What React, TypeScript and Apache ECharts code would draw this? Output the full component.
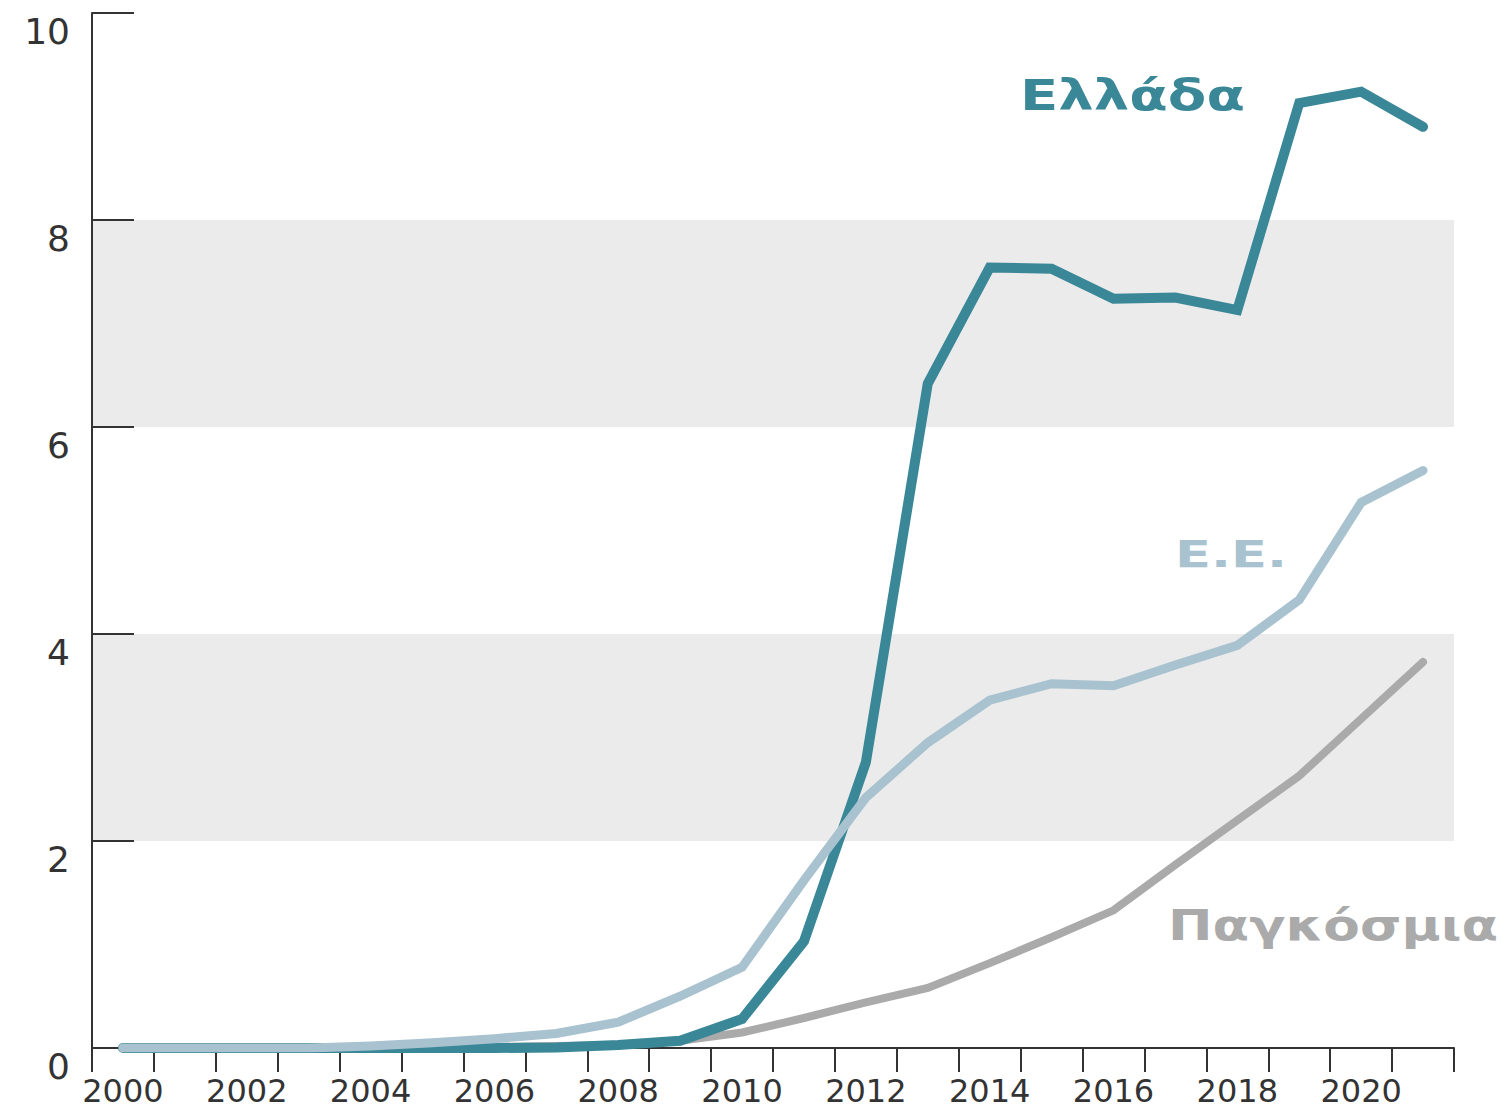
import React, { useEffect, useRef } from "react";
import * as echarts from "echarts";

const years = [
  "2000", "2001", "2002", "2003", "2004", "2005", "2006", "2007", "2008", "2009", "2010",
  "2011", "2012", "2013", "2014", "2015", "2016", "2017", "2018", "2019", "2020", "2021",
];
const greece = [0, 0, 0, 0, 0, 0, 0, 0.005, 0.03, 0.07, 0.28, 1.03, 2.76, 6.42, 7.54, 7.53, 7.24, 7.25, 7.13, 9.13, 9.24, 8.9];
const eu = [0, 0, 0, 0, 0.02, 0.05, 0.09, 0.14, 0.25, 0.5, 0.78, 1.62, 2.42, 2.95, 3.36, 3.52, 3.5, 3.7, 3.89, 4.33, 5.27, 5.58];
const world = [0, 0, 0, 0, 0, 0, 0.01, 0.02, 0.03, 0.07, 0.15, 0.29, 0.44, 0.58, 0.82, 1.07, 1.33, 1.77, 2.2, 2.63, 3.18, 3.73];
const yTicks = [0, 2, 4, 6, 8, 10];

const labelGreece = "Ελλάδα";
const labelEU = "Ε.Ε.";
const labelWorld = "Παγκόσμια";

const TEAL = "#3a8797";
const LIGHT = "#a9c2cf";
const GRAY = "#aaaaaa";

function measure(text: string, font: string): number {
  const c = document.createElement("canvas");
  const ctx = c.getContext("2d");
  if (!ctx) return 1;
  ctx.font = font;
  return ctx.measureText(text).width || 1;
}

export default function App() {
  const ref = useRef<HTMLDivElement>(null);

  useEffect(() => {
    document.body.style.margin = "0";
    document.body.style.overflow = "hidden";
    if (!ref.current) return;
    const chart = echarts.init(ref.current, undefined, { renderer: "svg" });

    const fam = '"DejaVu Sans", sans-serif';
    const mkLabel = (text: string, x: number, y: number, size: number, width: number, color: string) => {
      const w = measure(text, `bold ${size}px ${fam}`);
      return {
        type: "text",
        x,
        y,
        scaleX: width / w,
        z: 100,
        style: {
          text,
          fill: color,
          font: `bold ${size}px ${fam}`,
          align: "left",
          verticalAlign: "middle",
        },
      };
    };

    const lineSeries = (name: string, data: number[], color: string, width: number, z: number) => ({
      name,
      type: "line",
      data,
      symbol: "none",
      z,
      lineStyle: { color, width, cap: "round", join: "miter" },
    });

    chart.setOption({
      animation: false,
      backgroundColor: "#ffffff",
      grid: { left: 92, right: 49, top: 13, bottom: 61, containLabel: false },
      xAxis: {
        type: "category",
        data: years,
        boundaryGap: true,
        axisLine: { show: true, lineStyle: { color: "#333", width: 2 } },
        axisTick: { show: true, interval: 0, length: 24, inside: false, lineStyle: { color: "#333", width: 2 } },
        axisLabel: {
          interval: 1,
          margin: 27,
          color: "#333",
          fontSize: 32,
          lineHeight: 32,
          fontFamily: fam,
        },
        splitLine: { show: false },
      },
      yAxis: {
        type: "value",
        min: yTicks[0],
        max: yTicks[yTicks.length - 1],
        interval: 2,
        axisLine: { show: true, lineStyle: { color: "#333", width: 2 } },
        axisTick: { show: true, inside: true, length: 42, lineStyle: { color: "#333", width: 2 } },
        axisLabel: {
          color: "#333",
          fontSize: 36,
          fontFamily: fam,
          margin: 22,
          verticalAlign: "top",
        },
        splitLine: { show: false },
        splitArea: { show: true, areaStyle: { color: ["rgba(0,0,0,0)", "#ebebeb"] } },
      },
      series: [
        lineSeries("Παγκόσμια", world, GRAY, 8, 2),
        lineSeries("Ελλάδα", greece, TEAL, 10, 3),
        lineSeries("Ε.Ε.", eu, LIGHT, 9, 4),
      ],
      graphic: [
        mkLabel(labelGreece, 1020, 96, 42, 225, TEAL),
        mkLabel(labelEU, 1175, 554, 38, 112, LIGHT),
        mkLabel(labelWorld, 1168, 925, 42, 330, GRAY),
      ],
    });

    return () => chart.dispose();
  }, []);

  return <div ref={ref} style={{ width: 1503, height: 1109 }} />;
}
